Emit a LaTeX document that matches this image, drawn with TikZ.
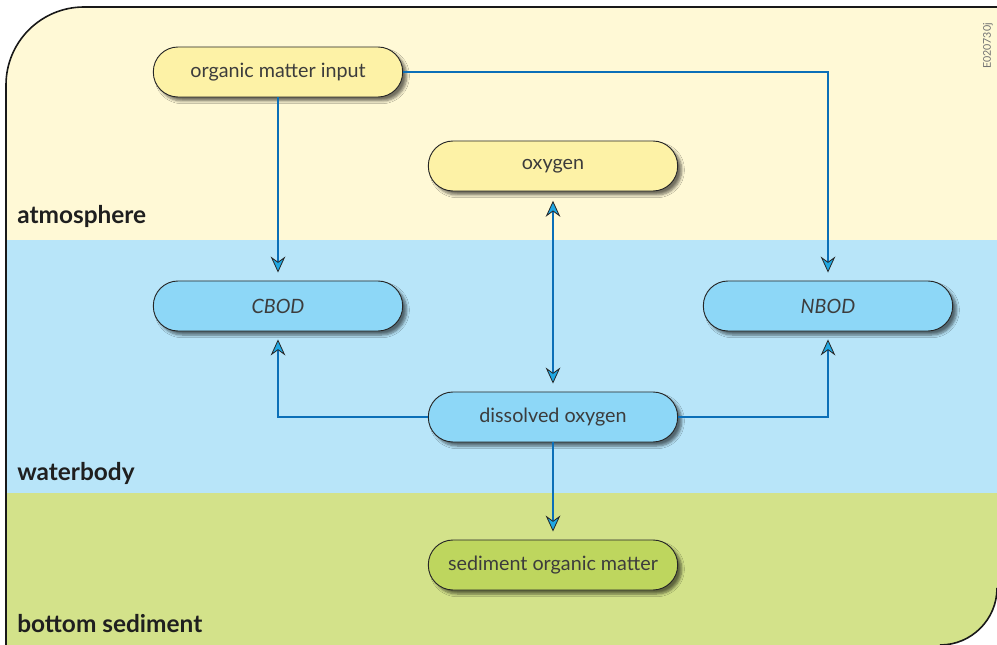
\documentclass[tikz,border=0pt]{standalone}
\usepackage{fontspec}
\setmainfont{Lato}
\usetikzlibrary{arrows.meta,shadows.blur}

\definecolor{airbg}{HTML}{FFF9D6}
\definecolor{waterbg}{HTML}{B8E5F9}
\definecolor{soilbg}{HTML}{D3E28A}
\definecolor{airbox}{HTML}{FDF2A6}
\definecolor{waterbox}{HTML}{8DD7F7}
\definecolor{soilbox}{HTML}{BED65E}
\definecolor{flowline}{HTML}{0B6FB8}
\definecolor{tipfill}{HTML}{1FA7E2}
\definecolor{inkgray}{HTML}{3C3C3C}

\begin{document}
\begin{tikzpicture}[x=0.75pt,y=-0.75pt,
  box/.style={rectangle,rounded corners=18.5pt,minimum width=187pt,minimum height=37.5pt,
    draw=black!85,line width=0.7pt,text=inkgray,font=\fontsize{14.8}{17}\selectfont,
    blur shadow={shadow xshift=3pt,shadow yshift=-3pt,shadow blur steps=6,shadow opacity=55}},
  air/.style={fill=airbox},
  water/.style={fill=waterbox},
  soil/.style={fill=soilbox},
  layer/.style={anchor=base west,font=\fontsize{18.3}{21}\selectfont\bfseries,text=black!88,inner sep=0pt},
  tip/.style={Stealth[length=12pt,width=11pt,inset=4pt,fill=tipfill,color=black!85,line width=0.6pt]},
  flow/.style={draw=flowline,line width=1.5pt,shorten >=6pt,-{Stealth[length=12pt,width=11pt,inset=4pt,fill=tipfill,color=black!85,line width=0.6pt]}}]

  \useasboundingbox (0,0) rectangle (997,645);

  % the three layers, cut to the frame outline
  \begin{scope}
    \clip (6,645) -- (6,85) arc[start angle=180,end angle=270,radius=78] -- (997,7)
      -- (997,588) arc[start angle=0,end angle=90,radius=57] -- cycle;
    \fill[airbg] (0,0) rectangle (997,240);
    \fill[waterbg] (0,240) rectangle (997,493);
    \fill[soilbg] (0,493) rectangle (997,645);
  \end{scope}
  \draw[black!90,line width=1.2pt] (6,645) -- (6,85) arc[start angle=180,end angle=270,radius=78] -- (997,7)
    (997,588) arc[start angle=0,end angle=90,radius=57];

  \node[layer] (atm) at (17,224) {atmosphere};
  \node[layer] (wat) at (17,480) {waterbody};
  \node[layer] (sed) at (17,632) {bottom sediment};

  \node[rotate=90,text=black!55,font=\fontsize{8}{9}\selectfont] (code) at (988,46) {E020730j};

  \node[box,air] (omi) at (278,72) {organic matter input};
  \node[box,air] (oxy) at (553,166) {oxygen};
  \node[box,water] (cbod) at (278,306) {\itshape CBOD};
  \node[box,water] (nbod) at (828,306) {\itshape NBOD};
  \node[box,water] (dox) at (553,417) {dissolved oxygen};
  \node[box,soil] (som) at (553,565) {sediment organic matter};

  \draw[flow] (omi.south) -- (cbod.north);
  \draw[flow] (omi.east) -| (nbod.north);
  \draw[flow,shorten <=7pt,
    {Stealth[length=12pt,width=11pt,inset=4pt,fill=tipfill,color=black!85,line width=0.6pt]}-{Stealth[length=12pt,width=11pt,inset=4pt,fill=tipfill,color=black!85,line width=0.6pt]}]
    (oxy.south) -- (dox.north);
  \draw[flow] (dox.west) -| (cbod.south);
  \draw[flow] (dox.east) -| (nbod.south);
  \draw[flow] (dox.south) -- (som.north);
\end{tikzpicture}
\end{document}
